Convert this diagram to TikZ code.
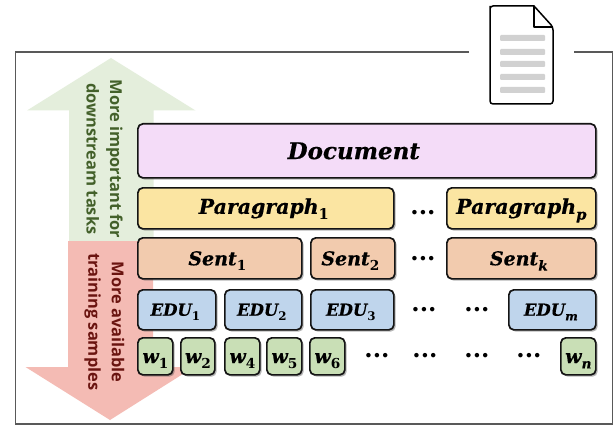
\documentclass[tikz,border=0pt]{standalone}
\usepackage{fontspec}
\usepackage{graphicx}
\setmainfont{DejaVu Serif}
\newfontfamily\lblfont{Open Sans}
\newfontfamily\boxfont{DejaVu Serif}[ItalicFont={DejaVu Serif Bold Italic},ItalicFeatures={FakeBold=0.5}]
\usetikzlibrary{shadows}
\definecolor{docfill}{HTML}{F4DCF8}
\definecolor{parfill}{HTML}{FBE5A2}
\definecolor{sentfill}{HTML}{F2CBAE}
\definecolor{edufill}{HTML}{BFD5EC}
\definecolor{wfill}{HTML}{C9DFB6}
\definecolor{upfill}{HTML}{E4EEDC}
\definecolor{downfill}{HTML}{F4BBB4}
\definecolor{uptext}{HTML}{43602A}
\definecolor{downtext}{HTML}{6A1410}
\newcommand{\lowtxt}[1]{\raisebox{-.28em}[0pt][0pt]{\scalebox{.72}{#1}}}
\newcommand{\wordtxt}[1]{\rule{0pt}{13.5pt}\fontsize{19}{19}\selectfont w\lowtxt{#1}}
\tikzset{
  block/.style={draw=black!92, line width=1.7pt, rounded corners=5pt, inner sep=0pt, anchor=north west,
    drop shadow={shadow xshift=1.8pt, shadow yshift=-1.8pt, opacity=.4, fill=black!70},
    font=\boxfont\itshape},
  dotsmark/.style={font=\boxfont\bfseries\fontsize{24}{24}\selectfont, inner sep=0pt, text=black},
  upnote/.style={rotate=-90, align=center, text=uptext, font=\lblfont\bfseries\fontsize{16.4}{23.5}\selectfont, inner sep=0pt},
  downnote/.style={rotate=-90, align=center, text=downtext, font=\lblfont\bfseries\fontsize{16.4}{23.5}\selectfont, inner sep=0pt},
  sheetline/.style={fill=black!18, rounded corners=1pt, draw=none},
}
\begin{document}
\begin{tikzpicture}[x=1pt,y=-1pt]
\useasboundingbox (0,0) rectangle (613,425);
\fill[white] (0,0) rectangle (613,425);
% frame
\coordinate (fa) at (469,52);
\coordinate (fb) at (15.5,52);
\coordinate (fc) at (15.5,424);
\coordinate (fd) at (612.6,424);
\coordinate (fe) at (612.6,52);
\coordinate (ff) at (574,52);
\draw[black!65, line width=1.3pt] (fa) -- (fb) -- (fc) -- (fd) -- (fe) -- (ff);
% arrows
\fill[upfill] (111,58) -- (195.5,110.5) -- (153.5,110.5) -- (153.5,241) -- (69,241) -- (69,110.5) -- (27,110.5) -- cycle;
\fill[downfill] (110,420) -- (194,367) -- (153,367) -- (153,241) -- (68,241) -- (68,367) -- (25.5,367) -- cycle;
\node[upnote] (up) at (104.5,159) {More important for\\downstream tasks};
\node[downnote] (down) at (104.5,322) {More available\\training samples};
% document icon
\draw[black, line width=1.5pt, fill=white, rounded corners=3pt]
  (490,9) -- (490,104) -- (553,104) -- (553,27) [sharp corners] -- (534,6) [rounded corners=3pt] -- (490,6) -- cycle;
\draw[black, line width=1.5pt, line join=round] (534,6) -- (534,27) -- (553,27);
\fill[sheetline] (500,35) rectangle (545,41);
\fill[sheetline] (500,49) rectangle (545,55);
\fill[sheetline] (500,61) rectangle (545,67);
\fill[sheetline] (500,74) rectangle (545,80);
\fill[sheetline] (500,87) rectangle (545,93);
% blocks
\node[block, fill=docfill, minimum width=458pt, minimum height=54pt] (doc) at (137,123) {\fontsize{23}{23}\selectfont Document\kern 26pt};
\node[block, fill=parfill, minimum width=256pt, minimum height=41pt] (p1) at (137,187) {\fontsize{20.5}{20}\selectfont Paragraph\lowtxt{\bfseries\upshape 1}\kern 4pt};
\node[block, fill=parfill, minimum width=149pt, minimum height=41pt] (pp) at (446,187) {\fontsize{20.5}{20}\selectfont Paragraph\lowtxt{p}};
\node[block, fill=sentfill, minimum width=164pt, minimum height=41pt] (s1) at (137,237) {\fontsize{19}{19}\selectfont Sent\lowtxt{\bfseries\upshape 1}\kern 5pt};
\node[block, fill=sentfill, minimum width=84pt, minimum height=41pt] (s2) at (310,237) {\fontsize{19}{19}\selectfont Sent\lowtxt{\bfseries\upshape 2}\kern 5pt};
\node[block, fill=sentfill, minimum width=149pt, minimum height=41pt] (sk) at (446,237) {\fontsize{19}{19}\selectfont Sent\lowtxt{k}\kern 5pt};
\node[block, fill=edufill, minimum width=78pt, minimum height=40pt] (e1) at (137,289) {\fontsize{16.5}{16}\selectfont EDU\lowtxt{\bfseries\upshape 1}\kern 3pt};
\node[block, fill=edufill, minimum width=77pt, minimum height=40pt] (e2) at (224,289) {\fontsize{16.5}{16}\selectfont EDU\lowtxt{\bfseries\upshape 2}\kern 3pt};
\node[block, fill=edufill, minimum width=83pt, minimum height=40pt] (e3) at (310,289) {\fontsize{16.5}{16}\selectfont EDU\lowtxt{\bfseries\upshape 3}\kern 3pt};
\node[block, fill=edufill, minimum width=87pt, minimum height=40pt] (em) at (508,289) {\fontsize{16.5}{16}\selectfont EDU\lowtxt{m}\kern 3pt};
\node[block, fill=wfill, minimum width=35pt, minimum height=37pt] (w1) at (137,337) {\wordtxt{\bfseries\upshape 1}};
\node[block, fill=wfill, minimum width=34pt, minimum height=37pt] (w2) at (180,337) {\wordtxt{\bfseries\upshape 2}};
\node[block, fill=wfill, minimum width=35pt, minimum height=37pt] (w4) at (224,337) {\wordtxt{\bfseries\upshape 4}};
\node[block, fill=wfill, minimum width=35pt, minimum height=37pt] (w5) at (266,337) {\wordtxt{\bfseries\upshape 5}};
\node[block, fill=wfill, minimum width=35pt, minimum height=37pt] (w6) at (309,337) {\wordtxt{\bfseries\upshape 6}};
\node[block, fill=wfill, minimum width=35pt, minimum height=37pt] (wn) at (560,337) {\wordtxt{n}};
% dots
\node[dotsmark] (d1) at (423,213) {...};
\node[dotsmark] (d2) at (423,259) {...};
\node[dotsmark] (d3) at (424,310) {...};
\node[dotsmark] (d4) at (477,310) {...};
\node[dotsmark] (d5) at (377,356) {...};
\node[dotsmark] (d6) at (425,356) {...};
\node[dotsmark] (d7) at (477,356) {...};
\node[dotsmark] (d8) at (529,356) {...};
\end{tikzpicture}
\end{document}
